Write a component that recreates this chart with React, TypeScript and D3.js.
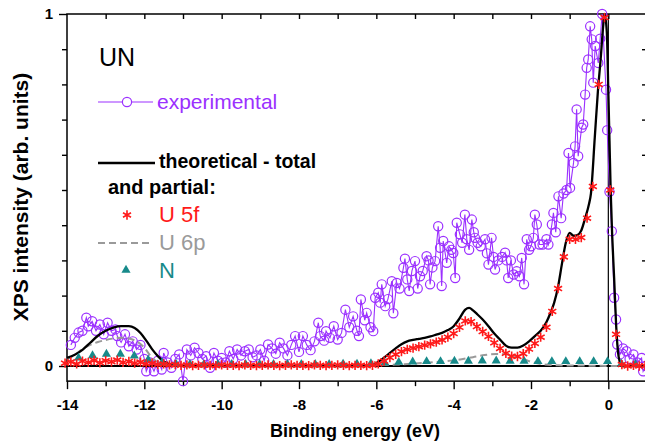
import { useEffect, useRef } from 'react';
import * as d3 from 'd3';

// experimental XPS spectrum: [binding energy (eV), intensity]
const experimental: [number, number][] = [
  [-13.9, 0.06], [-13.8, 0.08], [-13.7, 0.095], [-13.6, 0.1], [-13.5, 0.137], [-13.45, 0.113],
  [-13.35, 0.127], [-13.25, 0.1], [-13.15, 0.118], [-13.05, 0.09], [-12.95, 0.123], [-12.85, 0.1],
  [-12.75, 0.104], [-12.7, 0.085], [-12.6, 0.067], [-12.5, 0.09], [-12.4, 0.056], [-12.3, 0.07],
  [-12.2, 0.047], [-12.1, 0.06], [-12.0, 0.02], [-11.95, -0.015], [-11.85, 0.01], [-11.75, -0.015],
  [-11.65, 0.015], [-11.55, -0.01], [-11.5, 0.037], [-11.4, 0.01], [-11.3, -0.005], [-11.2, 0.02],
  [-11.1, 0.033], [-11.0, -0.043], [-10.9, 0.047], [-10.8, 0.03], [-10.7, 0.052], [-10.6, 0.037],
  [-10.5, 0.02], [-10.4, 0.028], [-10.3, -0.005], [-10.2, 0.037], [-10.1, 0.015], [-10.0, 0.023],
  [-9.9, 0.01], [-9.8, 0.042], [-9.7, 0.02], [-9.6, 0.047], [-9.5, 0.03], [-9.4, 0.042],
  [-9.3, 0.047], [-9.2, 0.025], [-9.1, 0.03], [-9.0, 0.047], [-8.9, 0.015], [-8.8, 0.061],
  [-8.7, 0.05], [-8.6, 0.035], [-8.5, 0.066], [-8.4, 0.05], [-8.3, 0.03], [-8.2, 0.06],
  [-8.1, 0.085], [-8.0, 0.04], [-7.9, 0.085], [-7.8, 0.06], [-7.7, 0.045], [-7.6, 0.07],
  [-7.5, 0.123], [-7.45, 0.085], [-7.35, 0.072], [-7.3, 0.099], [-7.2, 0.08], [-7.1, 0.113],
  [-7.0, 0.075], [-6.9, 0.094], [-6.8, 0.16], [-6.7, 0.11], [-6.6, 0.141], [-6.5, 0.1],
  [-6.45, 0.085], [-6.4, 0.189], [-6.3, 0.13], [-6.25, 0.151], [-6.15, 0.11], [-6.08, 0.099],
  [-6.03, 0.194], [-5.95, 0.208], [-5.9, 0.18], [-5.86, 0.232], [-5.77, 0.17], [-5.7, 0.19],
  [-5.6, 0.241], [-5.56, 0.15], [-5.47, 0.236], [-5.4, 0.22], [-5.3, 0.279], [-5.26, 0.305],
  [-5.2, 0.246], [-5.15, 0.213], [-5.08, 0.27], [-5.0, 0.298], [-4.93, 0.22], [-4.87, 0.255],
  [-4.8, 0.27], [-4.7, 0.312], [-4.65, 0.3], [-4.61, 0.232], [-4.55, 0.28], [-4.48, 0.298],
  [-4.4, 0.397], [-4.35, 0.336], [-4.31, 0.227], [-4.27, 0.355], [-4.18, 0.293], [-4.12, 0.34],
  [-4.06, 0.33], [-4.01, 0.321], [-3.96, 0.25], [-3.92, 0.407], [-3.84, 0.374], [-3.78, 0.35],
  [-3.71, 0.43], [-3.66, 0.36], [-3.6, 0.33], [-3.53, 0.416], [-3.48, 0.38], [-3.45, 0.364],
  [-3.38, 0.35], [-3.3, 0.34], [-3.19, 0.36], [-3.14, 0.32], [-3.1, 0.288], [-3.02, 0.364],
  [-2.97, 0.31], [-2.93, 0.274], [-2.85, 0.3], [-2.75, 0.31], [-2.67, 0.322], [-2.63, 0.3],
  [-2.59, 0.25], [-2.52, 0.3], [-2.45, 0.26], [-2.37, 0.269], [-2.3, 0.255], [-2.24, 0.307],
  [-2.18, 0.232], [-2.11, 0.36], [-2.05, 0.33], [-2.0, 0.34], [-1.94, 0.364], [-1.9, 0.43],
  [-1.85, 0.402], [-1.78, 0.345], [-1.7, 0.345], [-1.6, 0.36], [-1.55, 0.345], [-1.46, 0.402],
  [-1.42, 0.435], [-1.36, 0.38], [-1.29, 0.482], [-1.22, 0.42], [-1.16, 0.49], [-1.08, 0.5],
  [-1.03, 0.605], [-0.99, 0.506], [-0.9, 0.577], [-0.86, 0.624], [-0.82, 0.729], [-0.78, 0.596],
  [-0.69, 0.677], [-0.65, 0.686], [-0.6, 0.771], [-0.56, 0.847], [-0.52, 0.871], [-0.47, 0.965],
  [-0.43, 0.928], [-0.39, 0.805], [-0.34, 0.909], [-0.26, 0.861], [-0.21, 0.93], [-0.16, 1.0],
  [-0.06, 0.785], [-0.03, 0.67], [0.03, 0.495], [0.09, 0.383], [0.15, 0.194], [0.2, 0.132],
  [0.23, 0.061], [0.3, 0.033], [0.38, 0.05], [0.47, 0.042], [0.55, 0.02], [0.65, 0.033],
  [0.75, 0.01], [0.86, 0.023], [0.9, -0.015], [0.97, 0.0],
];

// theoretical total DOS (black line)
const theoryTotal: [number, number][] = [
  [-14.0, 0.023], [-13.8, 0.032], [-13.6, 0.046], [-13.4, 0.066], [-13.2, 0.086], [-13.0, 0.1],
  [-12.8, 0.109], [-12.6, 0.113], [-12.4, 0.113], [-12.25, 0.108], [-12.1, 0.094], [-11.95, 0.072],
  [-11.8, 0.048], [-11.65, 0.028], [-11.5, 0.013], [-11.35, 0.005], [-11.2, 0.001], [-11.0, 0],
  [-6.3, 0], [-6.1, 0.003], [-5.95, 0.012], [-5.8, 0.024], [-5.65, 0.037], [-5.5, 0.05],
  [-5.35, 0.062], [-5.2, 0.07], [-5.05, 0.074], [-4.9, 0.077], [-4.75, 0.08], [-4.6, 0.084],
  [-4.45, 0.089], [-4.3, 0.094], [-4.15, 0.102], [-4.0, 0.113], [-3.85, 0.135], [-3.7, 0.16],
  [-3.6, 0.165], [-3.5, 0.158], [-3.4, 0.148], [-3.25, 0.132], [-3.1, 0.113], [-2.95, 0.092],
  [-2.8, 0.075], [-2.65, 0.058], [-2.5, 0.052], [-2.35, 0.052], [-2.2, 0.058], [-2.05, 0.07],
  [-1.9, 0.085], [-1.75, 0.1], [-1.6, 0.125], [-1.5, 0.15], [-1.4, 0.18], [-1.3, 0.225],
  [-1.2, 0.29], [-1.1, 0.35], [-1.0, 0.378], [-0.9, 0.37], [-0.8, 0.372], [-0.7, 0.385],
  [-0.6, 0.42], [-0.5, 0.46], [-0.45, 0.49], [-0.35, 0.65], [-0.27, 0.78], [-0.2, 0.87],
  [-0.13, 0.97], [-0.1, 1.0], [-0.04, 0.95], [0.0, 0.78], [0.03, 0.64], [0.06, 0.5],
  [0.1, 0.37], [0.15, 0.25], [0.2, 0.12], [0.25, 0.04], [0.3, 0.01], [0.35, 0], [1.0, 0],
];

// U 5f partial (red stars), one value every 0.15 eV from -14.05
const u5fStart = -14.05;
const u5fStep = 0.15;
const u5fValues = [
  0.008, 0.012, 0.006, 0.014, 0.01, 0.016, 0.009, 0.015, 0.012, 0.017,
  0.01, 0.013, 0.008, 0.011, 0.006, 0.008, 0.004, 0.006, 0.003, 0.004,
  0.002, 0.003, 0.001, 0.002, 0.003, 0.002, 0.001, 0.003, 0.002, 0.002, 0.001,
  0.003, 0.002, 0.001, 0.002, 0.003, 0.002, 0.001, 0.002, 0.003, 0.002, 0.002,
  0.001, 0.003, 0.002, 0.001, 0.002, 0.003, 0.002, 0.001, 0.002, 0.002, 0.001,
  0.002, 0.006, 0.014, 0.024, 0.033, 0.041, 0.047, 0.051, 0.055, 0.059,
  0.063, 0.068, 0.074, 0.082, 0.092, 0.11, 0.128, 0.126, 0.112, 0.098,
  0.084, 0.066, 0.05, 0.036, 0.028, 0.027, 0.035, 0.048, 0.064, 0.082,
  0.11, 0.155, 0.22, 0.31, 0.36, 0.36, 0.365, 0.42, 0.51, 0.8,
  0.99, 0.5, 0.09, 0.004, 0, 0.002, 0, 0.001,
];

// U 6p partial (grey dashed)
const u6p: [number, number][] = [
  [-14.0, 0.018], [-13.8, 0.032], [-13.6, 0.048], [-13.4, 0.06], [-13.2, 0.068], [-13.0, 0.074],
  [-12.8, 0.078], [-12.6, 0.08], [-12.4, 0.078], [-12.2, 0.07], [-12.0, 0.052], [-11.85, 0.03],
  [-11.7, 0.014], [-11.5, 0.004], [-11.2, 0], [-6.5, 0], [-6.0, 0.002], [-5.5, 0.004],
  [-5.0, 0.007], [-4.5, 0.011], [-4.0, 0.016], [-3.5, 0.025], [-3.2, 0.031], [-2.9, 0.034],
  [-2.6, 0.033], [-2.3, 0.024], [-2.0, 0.012], [-1.7, 0.005], [-1.3, 0.002], [-0.5, 0.001],
  [0.3, 0], [1.0, 0],
];

// N partial (teal triangles), one value every 0.36 eV from -13.7
const nStart = -13.7;
const nStep = 0.36;
const nValues = [
  0.02, 0.027, 0.031, 0.031, 0.026, 0.015, 0.007, 0.003, 0.002, 0.002,
  0.002, 0.002, 0.002, 0.002, 0.002, 0.002, 0.002, 0.002, 0.002, 0.003,
  0.003, 0.004, 0.006, 0.008, 0.009, 0.01, 0.01, 0.011, 0.011, 0.012,
  0.012, 0.011, 0.011, 0.01, 0.01, 0.01, 0.01, 0.01, 0.01, 0.003,
  0.002,
];

const xTickLabels = [-14, -12, -10, -8, -6, -4, -2, 0];
const xMinorTicks = [-13, -11, -9, -7, -5, -3, -1];
const xTopTicks = [-13, -12, -11, -10, -9, -8, -7, -6, -5, -4, -3, -2, -1, 0];
const yTickLabels = [0, 1];
const yMinorTicks = [0.1, 0.2, 0.3, 0.4, 0.5, 0.6, 0.7, 0.8, 0.9];

const PURPLE = '#9b30ff';
const RED = '#ff1a1a';
const GREY = '#9a9a9a';
const TEAL = '#178a8a';
const FONT = 'Arial, "Liberation Sans", sans-serif';

const W = 645;
const H = 443;

const App = () => {
  const svgRef = useRef<SVGSVGElement>(null);

  useEffect(() => {
    const svg = d3.select(svgRef.current);
    svg.selectAll('*').remove();

    const x = d3.scaleLinear().domain([-14, 1]).range([67, 647]);
    const y = d3.scaleLinear().domain([0, 1]).range([366, 14]);
    const yMin = -0.043;

    const starSym = d3.symbol().type(d3.symbolAsterisk).size(60);
    const triSym = d3.symbol().type(d3.symbolTriangle).size(36);

    // frame
    svg
      .append('rect')
      .attr('x', x(-14))
      .attr('y', y(1))
      .attr('width', x(1) - x(-14))
      .attr('height', y(yMin) - y(1))
      .attr('fill', 'none')
      .attr('stroke', '#000')
      .attr('stroke-width', 1.5);

    const styleAxis = (g) => {
      g.select('.domain').remove();
      g.selectAll('line').attr('stroke', '#000').attr('stroke-width', 1.4);
      g.selectAll('text')
        .attr('fill', '#000')
        .style('font-family', FONT)
        .style('font-size', '15px')
        .style('font-weight', 'bold');
    };

    svg
      .append('g')
      .attr('transform', `translate(0,${y(yMin)})`)
      .call(d3.axisBottom(x).tickValues(xTickLabels).tickSize(8).tickPadding(10).tickFormat((d) => String(d)))
      .call(styleAxis);
    svg
      .append('g')
      .attr('transform', `translate(0,${y(yMin)})`)
      .call(d3.axisBottom(x).tickValues(xMinorTicks).tickSize(5).tickFormat(() => ''))
      .call(styleAxis);
    svg
      .append('g')
      .attr('transform', `translate(0,${y(1)})`)
      .call(d3.axisBottom(x).tickValues(xTopTicks).tickSize(5).tickFormat(() => ''))
      .call(styleAxis);
    svg
      .append('g')
      .attr('transform', `translate(${x(-14)},0)`)
      .call(d3.axisLeft(y).tickValues(yTickLabels).tickSize(8).tickPadding(6).tickFormat((d) => String(d)))
      .call(styleAxis);
    svg
      .append('g')
      .attr('transform', `translate(${x(-14)},0)`)
      .call(d3.axisLeft(y).tickValues(yMinorTicks).tickSize(5).tickFormat(() => ''))
      .call(styleAxis);
    svg
      .append('g')
      .attr('transform', `translate(${x(1)},0)`)
      .call(d3.axisLeft(y).tickValues(yMinorTicks).tickSize(5).tickFormat(() => ''))
      .call(styleAxis);

    // Fermi level
    svg
      .append('line')
      .attr('x1', x(0))
      .attr('x2', x(0))
      .attr('y1', y(1))
      .attr('y2', y(yMin))
      .attr('stroke', '#000')
      .attr('stroke-width', 1.2);

    // experimental
    const line = d3
      .line<[number, number]>()
      .x((d) => x(d[0]))
      .y((d) => y(d[1]));

    svg
      .append('path')
      .attr('d', line(experimental))
      .attr('fill', 'none')
      .attr('stroke', PURPLE)
      .attr('stroke-width', 1.1);
    svg
      .append('g')
      .selectAll('circle')
      .data(experimental)
      .join('circle')
      .attr('cx', (d) => x(d[0]))
      .attr('cy', (d) => y(d[1]))
      .attr('r', 4.6)
      .attr('fill', 'none')
      .attr('stroke', PURPLE)
      .attr('stroke-width', 1.2);

    // zero line
    svg
      .append('line')
      .attr('x1', x(-14))
      .attr('x2', x(1))
      .attr('y1', y(0))
      .attr('y2', y(0))
      .attr('stroke', '#000')
      .attr('stroke-width', 2);

    // U 6p
    svg
      .append('path')
      .attr('d', line.curve(d3.curveMonotoneX)(u6p))
      .attr('fill', 'none')
      .attr('stroke', GREY)
      .attr('stroke-width', 2)
      .attr('stroke-dasharray', '7,4');

    // total
    svg
      .append('path')
      .attr('d', line.curve(d3.curveMonotoneX)(theoryTotal))
      .attr('fill', 'none')
      .attr('stroke', '#000')
      .attr('stroke-width', 2.3);

    // N
    svg
      .append('g')
      .selectAll('path')
      .data(nValues)
      .join('path')
      .attr('transform', (d, i) => `translate(${x(nStart + i * nStep)},${y(d) - 1})`)
      .attr('d', triSym())
      .attr('fill', TEAL);

    // U 5f
    svg
      .append('g')
      .selectAll('path')
      .data(u5fValues)
      .join('path')
      .attr('transform', (d, i) => `translate(${x(u5fStart + i * u5fStep)},${y(d)})`)
      .attr('d', starSym())
      .attr('fill', 'none')
      .attr('stroke', RED)
      .attr('stroke-width', 1.6);

    // axis titles
    svg
      .append('text')
      .attr('x', 355)
      .attr('y', 437)
      .attr('text-anchor', 'middle')
      .style('font-family', FONT)
      .style('font-size', '18px')
      .style('font-weight', 'bold')
      .text('Binding energy (eV)');
    svg
      .append('text')
      .attr('transform', 'translate(28,197) rotate(-90)')
      .attr('text-anchor', 'middle')
      .style('font-family', FONT)
      .style('font-size', '21px')
      .style('font-weight', 'bold')
      .text('XPS intensity (arb. units)');

    // legend
    const leg = svg.append('g').style('font-family', FONT);
    leg.append('text').attr('x', 99).attr('y', 66).style('font-size', '25px').text('UN');

    leg.append('line').attr('x1', 98).attr('x2', 153).attr('y1', 102).attr('y2', 102)
      .attr('stroke', PURPLE).attr('stroke-width', 1.2);
    leg.append('circle').attr('cx', 127).attr('cy', 102).attr('r', 4.6)
      .attr('fill', '#fff').attr('stroke', PURPLE).attr('stroke-width', 1.2);
    leg.append('text').attr('x', 157).attr('y', 109).style('font-size', '21px')
      .attr('fill', PURPLE).text('experimental');

    leg.append('line').attr('x1', 98).attr('x2', 155).attr('y1', 163).attr('y2', 163)
      .attr('stroke', '#000').attr('stroke-width', 2.3);
    leg.append('text').attr('x', 159).attr('y', 168).style('font-size', '19.5px')
      .style('font-weight', 'bold').text('theoretical - total');
    leg.append('text').attr('x', 108).attr('y', 194).style('font-size', '20px')
      .style('font-weight', 'bold').text('and partial:');

    leg.append('path').attr('transform', 'translate(127,215)').attr('d', starSym())
      .attr('fill', 'none').attr('stroke', RED).attr('stroke-width', 1.6);
    leg.append('text').attr('x', 159).attr('y', 222).style('font-size', '22px')
      .attr('fill', RED).text('U 5f');

    leg.append('line').attr('x1', 98).attr('x2', 153).attr('y1', 243).attr('y2', 243)
      .attr('stroke', GREY).attr('stroke-width', 2).attr('stroke-dasharray', '7,4');
    leg.append('text').attr('x', 159).attr('y', 250).style('font-size', '22px')
      .attr('fill', GREY).text('U 6p');

    leg.append('path').attr('transform', 'translate(126,270)').attr('d', triSym())
      .attr('fill', TEAL);
    leg.append('text').attr('x', 159).attr('y', 278).style('font-size', '22px')
      .attr('fill', TEAL).text('N');
  }, []);

  return (
    <svg
      ref={svgRef}
      width={W}
      height={H}
      style={{ position: 'absolute', left: 0, top: 0, background: '#fff' }}
    />
  );
};

export default App;
